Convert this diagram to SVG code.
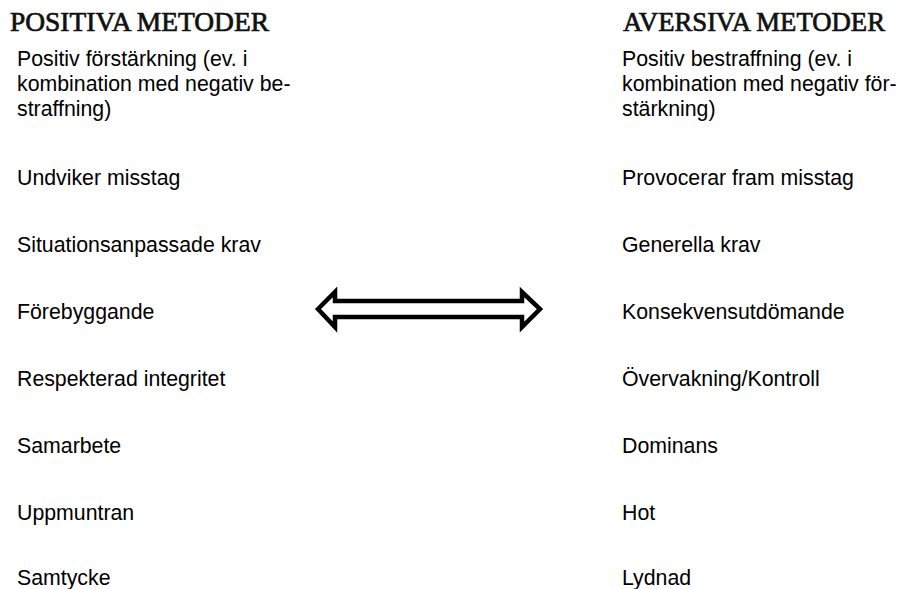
<svg xmlns="http://www.w3.org/2000/svg" width="898" height="589" viewBox="0 0 898 589">
<style>
.h{font-family:"Liberation Serif","Times New Roman",serif;font-weight:normal;font-size:27px;fill:#111;stroke:#111;stroke-width:0.7;}
.t{font-family:"Liberation Sans",Arial,sans-serif;font-size:21.3px;fill:#000;}
.arrow{fill:#fff;stroke:#000;stroke-width:4.5;stroke-linejoin:miter;}
</style>
<rect width="898" height="589" fill="#fff"/>
<g id="left-column">
<text id="heading-positive" class="h" x="10" y="31" textLength="259" lengthAdjust="spacingAndGlyphs">POSITIVA METODER</text>
<g id="p1"><text class="t" x="17" y="66">Positiv förstärkning (ev. i</text><text class="t" x="17" y="91">kombination med negativ be-</text><text class="t" x="17" y="116">straffning)</text></g>
<g id="p2"><text class="t" x="17" y="185">Undviker misstag</text></g>
<g id="p3"><text class="t" x="17" y="252">Situationsanpassade krav</text></g>
<g id="p4"><text class="t" x="17" y="319">Förebyggande</text></g>
<g id="p5"><text class="t" x="17" y="386">Respekterad integritet</text></g>
<g id="p6"><text class="t" x="17" y="453">Samarbete</text></g>
<g id="p7"><text class="t" x="17" y="520">Uppmuntran</text></g>
<g id="p8"><text class="t" x="17" y="585">Samtycke</text></g>
</g>
<g id="right-column">
<text id="heading-aversive" class="h" x="623" y="31" textLength="262" lengthAdjust="spacingAndGlyphs">AVERSIVA METODER</text>
<g id="a1"><text class="t" x="622" y="66">Positiv bestraffning (ev. i</text><text class="t" x="622" y="91">kombination med negativ för-</text><text class="t" x="622" y="116">stärkning)</text></g>
<g id="a2"><text class="t" x="622" y="185">Provocerar fram misstag</text></g>
<g id="a3"><text class="t" x="622" y="252">Generella krav</text></g>
<g id="a4"><text class="t" x="622" y="319">Konsekvensutdömande</text></g>
<g id="a5"><text class="t" x="622" y="386">Övervakning/Kontroll</text></g>
<g id="a6"><text class="t" x="622" y="453">Dominans</text></g>
<g id="a7"><text class="t" x="622" y="520">Hot</text></g>
<g id="a8"><text class="t" x="622" y="585">Lydnad</text></g>
</g>
<g id="connectors">
<polygon class="arrow" points="318,309 335,292 335,301 522,301 522,292 540,309 522,327 522,317 335,317 335,327"/>
</g>
</svg>
